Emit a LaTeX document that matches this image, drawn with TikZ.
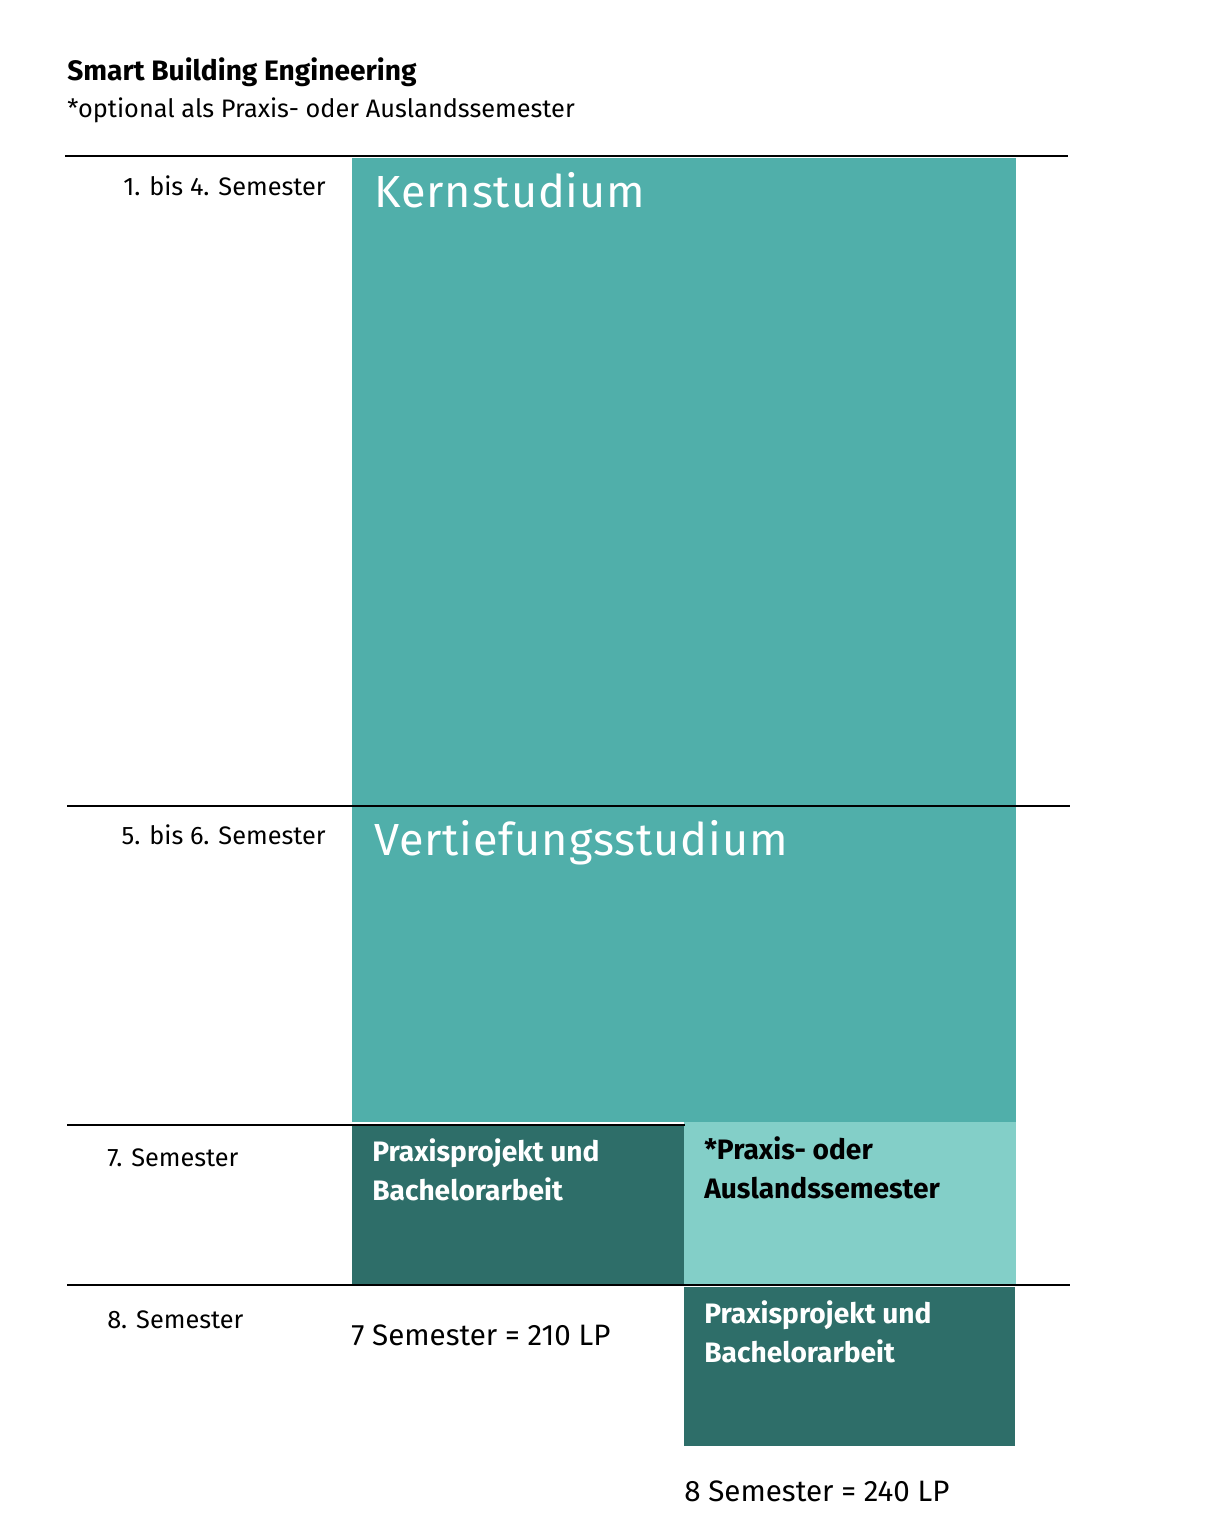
\documentclass[tikz,border=0pt]{standalone}
\usepackage{fontspec}
\setmainfont{Fira Sans}
\definecolor{teal}{HTML}{50AFAA}
\definecolor{darkteal}{HTML}{2E6E69}
\definecolor{lightteal}{HTML}{83CFC8}
\tikzset{
  rule/.style={line width=2pt},
  semlabel/.style={font=\fontsize{18}{22}\selectfont, inner sep=0pt},
  boxtext/.style={font=\fontsize{20}{28}\selectfont\bfseries, text=white, align=left, inner sep=0pt, anchor=north west},
  bigtext/.style={font=\fontsize{32}{36}\selectfont\addfontfeature{LetterSpace=2}, text=white, inner sep=0pt, anchor=north west}
}
\begin{document}
\begin{tikzpicture}[x=0.025cm,y=-0.025cm]
\useasboundingbox (0,0) rectangle (1222,1534);

% Titel
\node[anchor=base west, inner sep=0pt, font=\fontsize{20}{24}\selectfont\bfseries] (titel) at (67,80) {Smart Building Engineering};
\node[anchor=base west, inner sep=0pt, font=\fontsize{18}{22}\selectfont] (hinweis) at (67,117) {*optional als Praxis- oder Auslandssemester};

% Flaechen
\fill[teal] (352,158) rectangle (1016,1122);
\fill[darkteal] (352,1125) rectangle (684,1284);
\fill[lightteal] (684,1122) rectangle (1016,1284);
\fill[darkteal] (684,1287) rectangle (1015,1446);

% Linien
\draw[rule] (65,156) -- (1068,156);
\draw[rule] (67,806) -- (1070,806);
\draw[rule] (67,1125) -- (685,1125);
\draw[rule] (67,1285) -- (1070,1285);

% Semester
\node[semlabel, anchor=base east] (sem1) at (326,195) {1. bis 4. Semester};
\node[semlabel, anchor=base east] (sem5) at (326,844) {5. bis 6. Semester};
\node[semlabel, anchor=base west] (sem7) at (107,1166) {7. Semester};
\node[semlabel, anchor=base west] (sem8) at (107,1328) {8. Semester};

% Inhalte
\node[bigtext] (kern) at (374,172) {Kernstudium};
\node[bigtext] (vert) at (374,820) {Vertiefungsstudium};
\node[boxtext] (pb7) at (372,1138) {Praxisprojekt und\\Bachelorarbeit};
\node[boxtext, text=black] (opt) at (704,1136) {*Praxis- oder\\Auslandssemester};
\node[boxtext] (pb8) at (704,1300) {Praxisprojekt und\\Bachelorarbeit};

% Summen
\node[anchor=base west, inner sep=0pt, font=\fontsize{21}{25}\selectfont] (lp7) at (351,1345) {7 Semester = 210 LP};
\node[anchor=base west, inner sep=0pt, font=\fontsize{21}{25}\selectfont] (lp8) at (684,1501) {8 Semester = 240 LP};
\end{tikzpicture}
\end{document}
